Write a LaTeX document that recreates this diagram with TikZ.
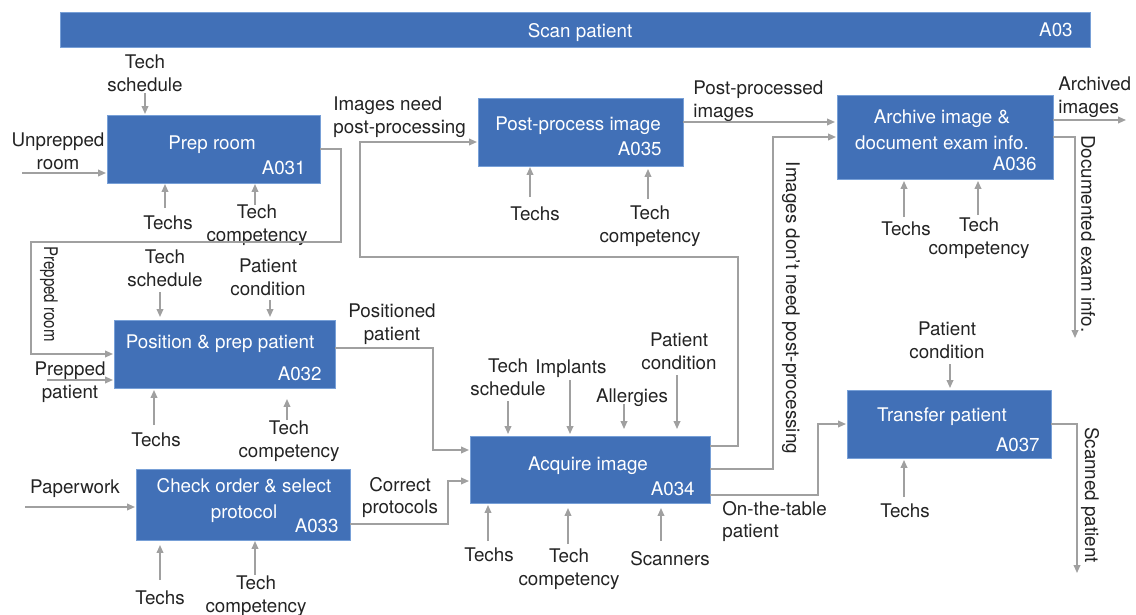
\documentclass[tikz,border=0pt]{standalone}
\usepackage{fontspec}
\setmainfont{TeX Gyre Heros}
\usetikzlibrary{arrows.meta,fit}
\definecolor{boxblue}{RGB}{65,112,183}
\definecolor{boxedge}{RGB}{120,160,215}
\definecolor{linegray}{RGB}{160,160,160}
\definecolor{txt}{RGB}{35,35,35}
\newcommand{\fsz}{\fontsize{10.7pt}{13pt}\selectfont}
\newcommand{\fbx}{\fontsize{10.7pt}{14.7pt}\selectfont}
\begin{document}
\begin{tikzpicture}[x=0.02cm,y=-0.02cm,
  box/.style={fill=boxblue, draw=boxedge, line width=0.4pt, inner sep=0pt},
  btxt/.style={text=white, font=\fbx, align=center, inner sep=0pt, yshift=-1.4pt},
  bid/.style={text=white, font=\fsz, anchor=base east, inner sep=0pt, yshift=-3.7pt},
  lbl/.style={text=txt, font=\fsz, align=center, inner sep=0pt, yshift=-0.9pt},
  lblr/.style={text=txt, font=\fsz, inner sep=0pt, rotate=-90},
  lbll/.style={text=txt, font=\fsz, align=left, anchor=west, inner sep=0pt, yshift=-0.9pt},
  arr/.style={draw=linegray, line width=0.85pt, -{Triangle[length=4.5pt,width=3.8pt]}}]
\useasboundingbox (0,0) rectangle (1136,615);
% banner
\node[box, fit={(60,12)(1090,47)}] (a03) {};
\node[btxt] (a03t) at (580,30) {Scan patient};
\node[bid] (a03i) at (1073,30) {A03};
% boxes
\node[box, fit={(107,115)(320,183)}] (a031) {};
\node[btxt] (a031t) at (212,142) {Prep room};
\node[bid] (a031i) at (306,168) {A031};
\node[box, fit={(114,320)(335,388)}] (a032) {};
\node[btxt] (a032t) at (220,341) {Position \& prep patient};
\node[bid] (a032i) at (322,374) {A032};
\node[box, fit={(136,469)(350,540)}] (a033) {};
\node[btxt] (a033t) at (244,498) {Check order \& select\\protocol};
\node[bid] (a033i) at (339,526) {A033};
\node[box, fit={(470,436)(710,503)}] (a034) {};
\node[btxt] (a034t) at (588,463) {Acquire image};
\node[bid] (a034i) at (695,489) {A034};
\node[box, fit={(478,98)(683,166)}] (a035) {};
\node[btxt] (a035t) at (578,123) {Post-process image};
\node[bid] (a035i) at (662,149) {A035};
\node[box, fit={(837,95)(1053,179)}] (a036) {};
\node[btxt] (a036t) at (942,127) {Archive image \&\\document exam info.};
\node[bid] (a036i) at (1037,164) {A036};
\node[box, fit={(847,390)(1051,458)}] (a037) {};
\node[btxt] (a037t) at (942,414) {Transfer patient};
\node[bid] (a037i) at (1040,445) {A037};
% labels
\node[lbl] (l1) at (145,72) {Tech\\schedule};
\node[lbl] (l2) at (58,150) {Unprepped\\room};
\node[lbl] (l3) at (168,221) {Techs};
\node[lbl] (l4) at (257,224) {Tech\\competency};
\node[lbl] (l5) at (165,267) {Tech\\schedule};
\node[lbl] (l6) at (268,276) {Patient\\condition};
\node[lbl] (l7) at (70,381) {Prepped\\patient};
\node[lbl] (l8) at (156,438) {Techs};
\node[lbl] (l9) at (289,440) {Tech\\competency};
\node[lbl] (l10) at (392,323) {Positioned\\patient};
\node[lbl] (l11) at (75,487) {Paperwork};
\node[lbl] (l12) at (160,596) {Techs};
\node[lbl] (l13) at (256,595) {Tech\\competency};
\node[lbl] (l14) at (400,496) {Correct\\protocols};
\node[lbll] (l15) at (333,116) {Images need\\post-processing};
\node[lbll] (l16) at (693,100) {Post-processed\\images};
\node[lbll] (l17) at (1058,96) {Archived\\images};
\node[lbll] (l18) at (722,520) {On-the-table\\patient};
\node[lbl] (l19) at (535,212) {Techs};
\node[lbl] (l20) at (650,225) {Tech\\competency};
\node[lbl] (l21) at (906,227) {Techs};
\node[lbl] (l22) at (979,237) {Tech\\competency};
\node[lbl] (l23) at (508,376) {Tech\\schedule};
\node[lbl] (l24) at (571,367) {Implants};
\node[lbl] (l25) at (632,396) {Allergies};
\node[lbl] (l26) at (679,350) {Patient\\condition};
\node[lbl] (l27) at (489,553) {Techs};
\node[lbl] (l28) at (569,568) {Tech\\competency};
\node[lbl] (l29) at (670,557) {Scanners};
\node[lbl] (l30) at (947,339) {Patient\\condition};
\node[lbl] (l31) at (905,509) {Techs};
\node[lblr] (l32) at (49,294) {\scalebox{0.8}[1]{Prepped room}};
\node[lblr] (l33) at (791,308) {Images don't need post-processing};
\node[lblr] (l34) at (1088,234) {Documented exam info.};
\node[lblr] (l35) at (1090,495) {Scanned patient};
% connectors A031
\draw[arr] (145,93) -- (145,114);
\draw[arr] (22,173) -- (106,173);
\draw[arr] (165,208) -- (165,184);
\draw[arr] (255,205) -- (255,184);
\draw[arr] (320,149) -- (341,149) -- (341,242) -- (31,242) -- (31,354) -- (113,354);
% A032
\draw[arr] (160,292) -- (160,317);
\draw[arr] (270,300) -- (270,317);
\draw[arr] (47,380) -- (113,380);
\draw[arr] (154,425) -- (154,390);
\draw[arr] (287,420) -- (287,399);
\draw[arr] (335,348) -- (433,348) -- (433,450) -- (469,450);
% A033
\draw[arr] (25,507) -- (135,507);
\draw[arr] (160,580) -- (160,545);
\draw[arr] (255,575) -- (255,541);
\draw[arr] (350,524) -- (448,524) -- (448,481) -- (469,481);
% A034
\draw[arr] (508,401) -- (508,434);
\draw[arr] (570,380) -- (570,434);
\draw[arr] (624,404) -- (624,429);
\draw[arr] (677,375) -- (677,429);
\draw[arr] (488,541) -- (488,505);
\draw[arr] (568,544) -- (568,508);
\draw[arr] (661,541) -- (661,508);
\draw[arr] (710,446) -- (738,446) -- (738,257) -- (360,257) -- (360,142) -- (477,142);
\draw[arr] (710,469) -- (773,469) -- (773,137) -- (836,137);
\draw[arr] (710,495) -- (818,495) -- (818,424) -- (846,424);
% A035
\draw[arr] (530,197) -- (530,167);
\draw[arr] (648,199) -- (648,169);
\draw[arr] (683,122) -- (835,122);
% A036
\draw[arr] (904,217) -- (904,181);
\draw[arr] (978,215) -- (978,181);
\draw[arr] (1053,120) -- (1126,120);
\draw[arr] (1053,137) -- (1075,137) -- (1075,338);
% A037
\draw[arr] (950,364) -- (950,388);
\draw[arr] (904,497) -- (904,460);
\draw[arr] (1051,424) -- (1077,424) -- (1077,573);
\end{tikzpicture}
\end{document}
